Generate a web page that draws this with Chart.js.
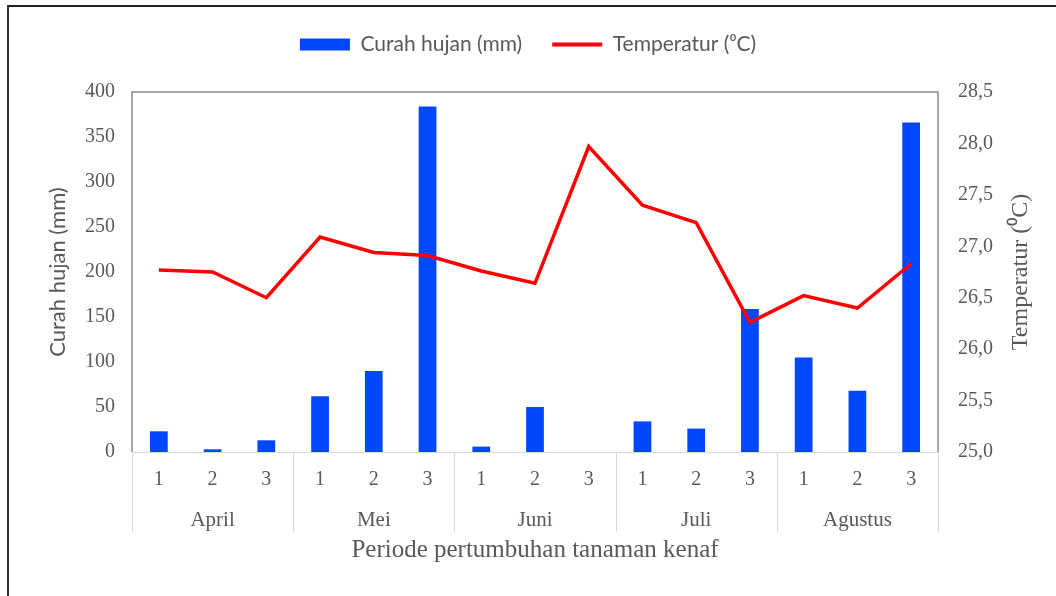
<!DOCTYPE html>
<html>
<head>
<meta charset="utf-8">
<script src="https://cdn.jsdelivr.net/npm/chart.js@4"></script>
<style>
  html, body { margin: 0; padding: 0; background: #fff; }
  #wrap { position: relative; width: 1056px; height: 596px; }
  #frame { position: absolute; left: 7px; top: 5px; width: 1049px; height: 591px;
           border-top: 2px solid #222; border-left: 2px solid #333; box-sizing: border-box; pointer-events: none; }
</style>
</head>
<body>
<div id="wrap">
  <canvas id="cuacaChart" width="1056" height="596"></canvas>
  <div id="frame"></div>
</div>
<script>
// periode (dasarian) dan bulan
const periods = ["1", "2", "3", "1", "2", "3", "1", "2", "3", "1", "2", "3", "1", "2", "3"];
const months = ["April", "Mei", "Juni", "Juli", "Agustus"];

// curah hujan (mm)
const rainfall = [23, 3, 13, 62, 90, 384, 6, 50, 0, 34, 26, 159, 105, 68, 366];

// temperatur (oC)
const temperature = [26.77, 26.75, 26.5, 27.09, 26.94, 26.91, 26.76, 26.64, 27.97, 27.4, 27.23, 26.26, 26.52, 26.4, 26.83];

const serif = "'Liberation Serif', 'Times New Roman', serif";
const sans = "Lato, 'Open Sans', sans-serif";
const grey = "#595959";

// frame of the plot area, month groups under the axis, right title
const groupAxis = {
  id: "groupAxis",
  beforeLayout(chart) {
    const lg = chart.legend;
    if (lg && !lg._fixed) {
      const fit = lg.fit;
      lg.fit = function () { fit.call(this); this.height = 88; };
      lg._fixed = true;
    }
  },
  beforeDatasetsDraw(chart) {
    const { ctx, chartArea: a } = chart;
    ctx.save();
    ctx.lineWidth = 1.5;
    ctx.strokeStyle = "#8a8a8a";
    ctx.beginPath();
    ctx.moveTo(a.left, a.bottom);
    ctx.lineTo(a.left, a.top);
    ctx.lineTo(a.right, a.top);
    ctx.lineTo(a.right, a.bottom);
    ctx.stroke();
    ctx.strokeStyle = "#d9d9d9";
    ctx.lineWidth = 1;
    ctx.beginPath();
    ctx.moveTo(a.left, a.bottom + 0.5);
    ctx.lineTo(a.right, a.bottom + 0.5);
    ctx.stroke();
    ctx.restore();
  },
  afterDraw(chart) {
    const { ctx, chartArea: a } = chart;
    const xs = chart.scales.x;
    const step = (xs.right - xs.left) / periods.length;
    ctx.save();
    ctx.strokeStyle = "#d9d9d9";
    ctx.lineWidth = 1;
    for (let g = 0; g <= months.length; g++) {
      const x = Math.round(xs.left + g * 3 * step) + 0.5;
      ctx.beginPath();
      ctx.moveTo(x, xs.top);
      ctx.lineTo(x, xs.top + 80);
      ctx.stroke();
    }
    ctx.fillStyle = grey;
    ctx.font = "21px " + serif;
    ctx.textAlign = "center";
    ctx.textBaseline = "middle";
    months.forEach((m, g) => {
      const x = xs.left + (g * 3 + 1.5) * step;
      ctx.fillText(m, x, xs.top + 68);
    });
    // right axis title, reading upwards
    ctx.translate(1021, (a.top + a.bottom) / 2);
    ctx.rotate(-Math.PI / 2);
    ctx.font = "24px " + serif;
    ctx.fillText("Temperatur (\u2070C)", 0, 0);
    ctx.restore();
  }
};

const ctx = document.getElementById("cuacaChart").getContext("2d");
new Chart(ctx, {
  data: {
    labels: periods,
    datasets: [
      {
        type: "line",
        label: "Temperatur (\u2070C)",
        data: temperature,
        yAxisID: "y1",
        borderColor: "#ff0000",
        backgroundColor: "#ff0000",
        borderWidth: 3.5,
        pointRadius: 0,
        tension: 0,
        order: 0
      },
      {
        type: "bar",
        label: "Curah hujan (mm)",
        data: rainfall,
        yAxisID: "y",
        backgroundColor: "#0048ff",
        barPercentage: 0.6,
        categoryPercentage: 0.55,
        order: 1
      }
    ]
  },
  options: {
    responsive: false,
    animation: false,
    layout: { padding: { top: 4, left: 8, right: 8, bottom: 31 } },
    plugins: {
      legend: {
        labels: {
          color: grey,
          font: { family: sans, size: 21 },
          usePointStyle: true,
          pointStyleWidth: 50,
          boxHeight: 12,
          padding: 30,
          generateLabels(chart) {
            return chart.data.datasets.slice().reverse().map(d => ({
              text: d.label,
              fillStyle: d.type === "bar" ? d.backgroundColor : d.borderColor,
              strokeStyle: d.type === "bar" ? d.backgroundColor : d.borderColor,
              lineWidth: d.type === "bar" ? 0 : 4,
              pointStyle: d.type === "bar" ? "rect" : "line",
              fontColor: grey,
              datasetIndex: chart.data.datasets.indexOf(d)
            }));
          }
        }
      },
      tooltip: { enabled: false }
    },
    scales: {
      x: {
        grid: { display: false },
        border: { display: false },
        ticks: { color: grey, font: { family: serif, size: 20 }, padding: 8 },
        title: {
          display: true,
          text: "Periode pertumbuhan tanaman kenaf",
          color: grey,
          font: { family: serif, size: 25 },
          padding: 0
        },
        afterFit(s) { s.height = 113; }
      },
      y: {
        position: "left",
        min: 0,
        max: 400,
        grid: { display: false },
        border: { display: false },
        ticks: { stepSize: 50, color: grey, font: { family: serif, size: 20 }, padding: 9 },
        title: {
          display: true,
          text: "Curah hujan (mm)",
          color: grey,
          font: { family: sans, size: 22 },
          padding: { top: 37, bottom: 0 }
        },
        afterFit(s) { s.width = 124; }
      },
      y1: {
        position: "right",
        min: 25,
        max: 28.5,
        grid: { display: false },
        border: { display: false },
        ticks: {
          stepSize: 0.5,
          color: grey,
          font: { family: serif, size: 20 },
          padding: 12,
          callback: v => v.toFixed(1).replace(".", ",")
        },
        afterFit(s) { s.width = 110; }
      }
    }
  },
  plugins: [groupAxis]
});
</script>
</body>
</html>
